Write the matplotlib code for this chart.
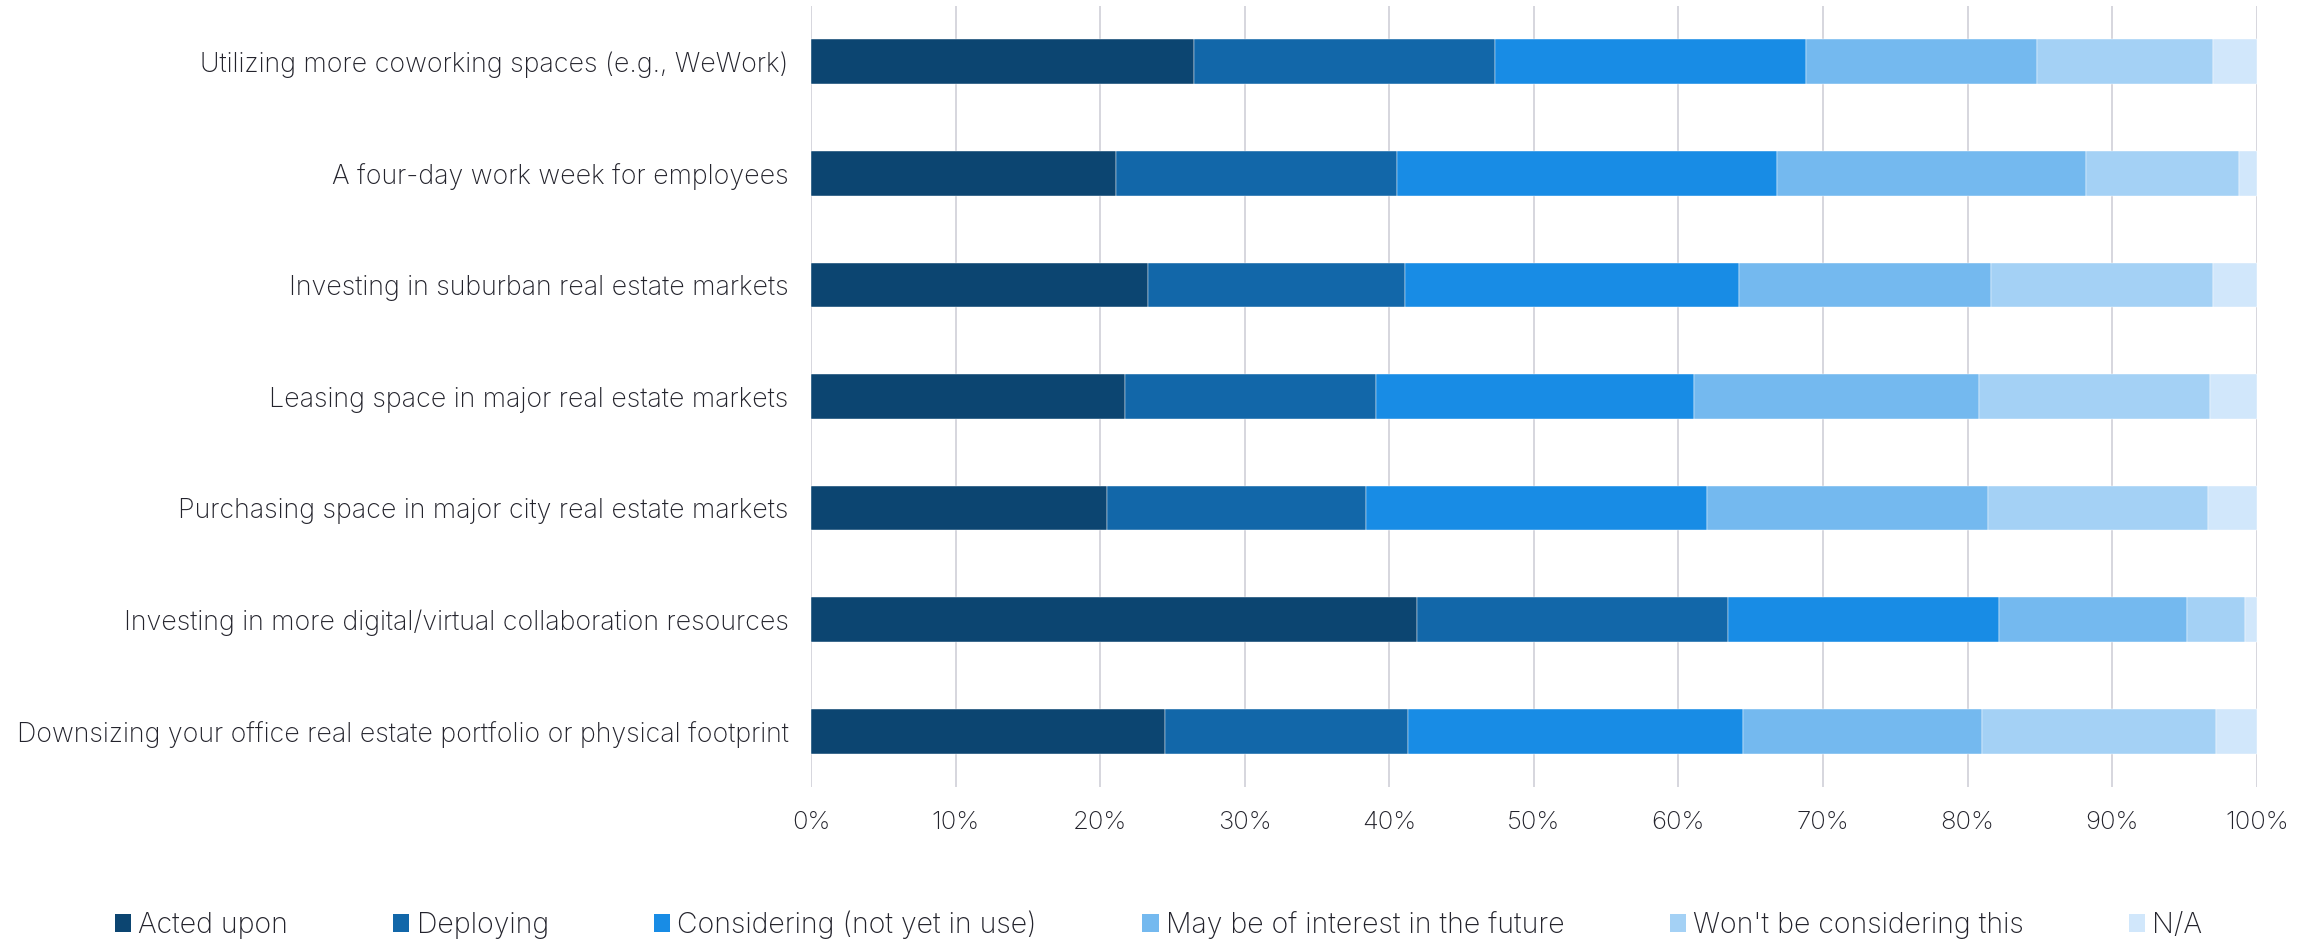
import matplotlib
matplotlib.use("Agg")
import matplotlib.pyplot as plt
from matplotlib.patches import Patch
import numpy as np

plt.rcParams['font.family'] = ['Inter', 'DejaVu Sans']
plt.rcParams['font.weight'] = 'light'

categories = [
    "Utilizing more coworking spaces (e.g., WeWork)",
    "A four-day work week for employees",
    "Investing in suburban real estate markets",
    "Leasing space in major real estate markets",
    "Purchasing space in major city real estate markets",
    "Investing in more digital/virtual collaboration resources",
    "Downsizing your office real estate portfolio or physical footprint",
]
series_names = ["Acted upon", "Deploying", "Considering (not yet in use)",
                "May be of interest in the future", "Won't be considering this", "N/A"]
acted_upon   = [26.5, 21.1, 23.3, 21.7, 20.5, 41.9, 24.5]
deploying    = [20.8, 19.4, 17.8, 17.4, 17.9, 21.5, 16.8]
considering  = [21.5, 26.3, 23.1, 22.0, 23.6, 18.8, 23.2]
may_interest = [16.0, 21.4, 17.4, 19.7, 19.4, 13.0, 16.5]
wont_consider = [12.2, 10.6, 15.4, 16.0, 15.2, 4.0, 16.2]
not_applicable = [3.0, 1.2, 3.0, 3.2, 3.4, 0.8, 2.8]
x_ticks = [0, 10, 20, 30, 40, 50, 60, 70, 80, 90, 100]

colors = ["#0C4571", "#1267A9", "#188CE5", "#74B9EF", "#A4D1F5", "#D1E7FB"]
text_color = "#23232C"

series = [acted_upon, deploying, considering, may_interest, wont_consider, not_applicable]

fig = plt.figure(figsize=(23.17, 9.41), dpi=100)
ax = fig.add_axes([0.350, 0.1636, 0.624, 0.830])

y = np.arange(len(categories))
left = np.zeros(len(categories))
for vals, col, name in zip(series, colors, series_names):
    ax.barh(y, vals, left=left, height=0.4, color=col, label=name, zorder=3,
            edgecolor='white', linewidth=0.3)
    left = left + np.array(vals)

ax.set_ylim(len(categories) - 0.5, -0.5)
ax.set_xlim(0, 100)
ax.set_yticks(y)
ax.set_yticklabels(categories)
ax.set_xticks(x_ticks)
ax.set_xticklabels([f"{t}%" for t in x_ticks])
ax.tick_params(axis='both', length=0, labelsize=18.5, colors=text_color)
ax.tick_params(axis='y', pad=16, labelsize=19.3)
ax.tick_params(axis='x', pad=17)
ax.grid(axis='x', color='#D3D3DB', linewidth=1.3, zorder=0)
for s in ax.spines.values():
    s.set_visible(False)

handles = [Patch(facecolor=c, edgecolor='none') for c in colors]
fig.legend(handles, series_names, loc='center', bbox_to_anchor=(0.5, 0.017),
           ncol=6, frameon=False, fontsize=20.5, labelcolor=text_color,
           handlelength=0.57, handleheight=0.57, handletextpad=0.25,
           columnspacing=3.7, borderaxespad=0)

fig.savefig("out.png", dpi=100)
